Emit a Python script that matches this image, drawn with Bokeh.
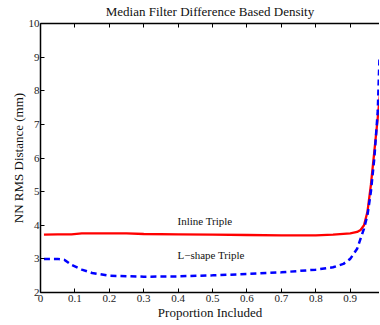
from bokeh.plotting import figure
from bokeh.models import Range1d, LinearAxis, Label, FixedTicker, Title
from bokeh.embed import file_html
from bokeh.resources import INLINE

# Data
inline_x = [0.01, 0.05, 0.09, 0.12, 0.2, 0.25, 0.3, 0.4, 0.5, 0.6, 0.7, 0.8, 0.85, 0.9, 0.92, 0.93, 0.94, 0.95, 0.96, 0.97, 0.98, 0.99]
inline_y = [3.72, 3.73, 3.73, 3.76, 3.76, 3.76, 3.74, 3.73, 3.72, 3.71, 3.70, 3.70, 3.72, 3.76, 3.80, 3.86, 4.0, 4.4, 5.2, 6.2, 7.2, 8.3]
lshape_x = [0.01, 0.05, 0.07, 0.09, 0.12, 0.15, 0.2, 0.3, 0.4, 0.5, 0.6, 0.7, 0.8, 0.85, 0.88, 0.9, 0.92, 0.94, 0.95, 0.96, 0.97, 0.98, 0.985]
lshape_y = [3.0, 3.0, 2.97, 2.82, 2.68, 2.58, 2.5, 2.47, 2.48, 2.51, 2.55, 2.6, 2.68, 2.75, 2.85, 3.0, 3.3, 3.9, 4.3, 5.0, 6.0, 7.4, 9.0]
x_ticks = [0, 0.1, 0.2, 0.3, 0.4, 0.5, 0.6, 0.7, 0.8, 0.9]
y_ticks = [2, 3, 4, 5, 6, 7, 8, 9, 10]
title_text = "Median Filter Difference Based Density"

FONT = "Liberation Serif"

p = figure(width=379, height=322, output_backend="svg", toolbar_location=None,
           x_range=Range1d(0, 0.985), y_range=Range1d(2, 10),
           min_border_left=40, min_border_right=0, min_border_top=21, min_border_bottom=30)
p.title = None
p.grid.visible = False
p.outline_line_color = None
p.background_fill_color = "white"

p.line(inline_x, inline_y, line_color="#ff0000", line_width=2.3)
p.line(lshape_x, lshape_y, line_color="#0000ff", line_width=2.5, line_dash="6 4")

for ax in (p.xaxis[0], p.yaxis[0]):
    ax.major_tick_in = 4
    ax.major_tick_out = 0
    ax.minor_tick_line_color = None
    ax.axis_line_color = "black"
    ax.axis_line_width = 1.5
    ax.major_label_text_font = FONT
    ax.major_label_text_font_size = "11px"
    ax.major_label_text_font_style = "normal"
    ax.major_label_text_color = "#222222"
    ax.axis_label_text_font = FONT
    ax.axis_label_text_font_size = "13px"
    ax.axis_label_text_font_style = "normal"
    ax.axis_label_text_color = "#111111"
    ax.major_label_standoff = 2
    ax.axis_label_standoff = 0

p.xaxis[0].ticker = FixedTicker(ticks=x_ticks)
p.xaxis[0].major_label_overrides = {0: "0"}
p.yaxis[0].ticker = FixedTicker(ticks=y_ticks)
p.yaxis[0].major_label_standoff = 1
p.xaxis[0].axis_label = "Proportion Included"
p.yaxis[0].axis_label = "NN RMS Distance (mm)"

top = LinearAxis(ticker=FixedTicker(ticks=x_ticks), major_tick_in=4, major_tick_out=0,
                 minor_tick_line_color=None, major_label_text_font_size="1px",
                 major_label_overrides={t: "" for t in x_ticks},
                 axis_line_width=1.5, major_label_standoff=0)
p.add_layout(top, "above")

p.add_layout(Title(text=title_text, align="center", vertical_align="top",
                   text_font=FONT, text_font_size="13px", text_font_style="normal",
                   text_color="#111111", offset=0, standoff=6), "above")

p.add_layout(Label(x=0.398, y=3.94, text="Inline Triple", text_font=FONT,
                   text_font_size="11px", text_font_style="normal", text_color="#111111"))
p.add_layout(Label(x=0.398, y=2.94, text="L\u2212shape Triple", text_font=FONT,
                   text_font_size="11px", text_font_style="normal", text_color="#111111"))

open("out.html", "w").write(file_html(p, INLINE))
